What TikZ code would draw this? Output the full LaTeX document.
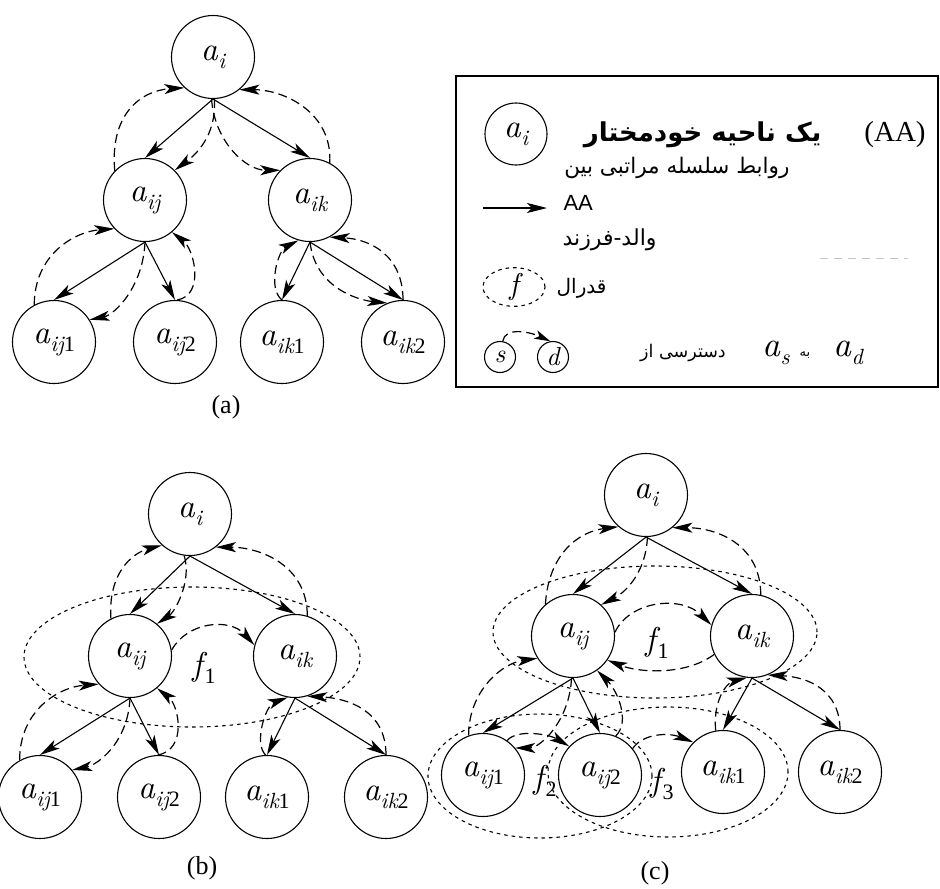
\documentclass[tikz,border=0pt]{standalone}
\usepackage{fontspec}
\setmainfont{Liberation Serif}
\newfontfamily\lmit{lmroman10-italic}[Extension=.otf]
\newfontfamily\farsi[Script=Arabic]{DejaVu Sans}
\newfontfamily\sansf{Liberation Sans}
\TeXXeTstate=1
\usetikzlibrary{arrows.meta,shapes.geometric}

% region label: italic letter with a lowered, smaller index
\newcommand\asub[1]{{\lmit a}\kern0.5pt\raisebox{-8pt}{\fontsize{22}{22}\selectfont #1}}
\newcommand\fsub[1]{{\lmit f}\kern2pt\raisebox{-8pt}{\fontsize{22}{22}\selectfont #1}}
\newcommand\ix[1]{{\lmit #1}}

\tikzset{
  region/.style={circle,draw,fill=white,line width=1.1pt,minimum size=83pt,inner sep=0pt,
                 font=\fontsize{33}{33}\selectfont},
  headtip/.style={-{Stealth[length=20pt,width=10pt,inset=5pt]}},
  hier/.style={headtip,line width=1.1pt},
  reach/.style={headtip,line width=1.2pt,dash pattern=on 9pt off 5pt},
  fed/.style={ellipse,draw,line width=1.1pt,dash pattern=on 3.5pt off 4pt,inner sep=0pt},
  caption/.style={font=\fontsize{26}{26}\selectfont},
  flabel/.style={font=\fontsize{33}{33}\selectfont},
  fa/.style={font=\farsi\fontsize{21.5}{21.5}\selectfont},
}

\begin{document}
\begin{tikzpicture}[x=1pt,y=-1pt]
\useasboundingbox (0,0) rectangle (940,889);

% ---------------- (a) ----------------
\node[region] (ai)   at (213,57)  {\asub{\ix{i}}};
\node[region] (aij)  at (145,200) {\asub{\ix{ij}}};
\node[region] (aik)  at (310,200) {\asub{\ix{ik}}};
\node[region] (aij1) at (54,342)  {\asub{\ix{ij}1}};
\node[region] (aij2) at (175,342) {\asub{\ix{ij}2}};
\node[region] (aik1) at (282,342) {\asub{\ix{ik}1}};
\node[region] (aik2) at (403,342) {\asub{\ix{ik}2}};
\node[caption] (capa) at (226,407) {(a)};

\draw[hier] (ai.south) -- (aij.north);
\draw[hier] (ai.south) -- (aik.north);
\draw[hier] (aij.south) -- (aij1.north);
\draw[hier] (aij.south) -- (aij2.north);
\draw[hier] (aik.south) -- (aik1.north);
\draw[hier] (aik.south) -- (aik2.north);

\draw[reach] (aij.136) .. controls +(-5,-55) and +(-45,3) .. (ai.227);
\draw[reach] (ai.272) .. controls +(2,38) and +(20,-15) .. (aij.45);
\draw[reach] (ai.268) .. controls +(3,42) and +(-35,0) .. (aik.135);
\draw[reach] (aik.62) .. controls +(3,-50) and +(45,0) .. (ai.309);
\draw[reach] (aij1.118) .. controls +(0,-50) and +(-40,3) .. (aij.223);
\draw[reach] (aij.south) .. controls +(-2,45) and +(25,-5) .. (aij1.32);
\draw[reach] (aij2.87) .. controls +(28,-5) and +(22,17) .. (aij.310);
\draw[reach] (aik1.90) .. controls +(-15,-12) and +(-20,10) .. (aik.254);
\draw[reach] (aik.south) .. controls +(5,45) and +(-30,-3) .. (aik2.112);
\draw[reach] (aik2.90) .. controls +(0,-45) and +(40,2) .. (aik.298);

% ---------------- legend ----------------
\node[draw,line width=1.2pt,minimum width=482pt,minimum height=311pt,inner sep=0pt] (box) at (697,231.5) {};
\node[region,minimum size=62pt] (la) at (516,134) {\asub{\ix{i}}};
\node[font=\farsi\bfseries\fontsize{26}{26}\selectfont,anchor=east] (t1) at (825,135) {\beginR یک ناحیه خودمختار\endR};
\node[font=\fontsize{29}{29}\selectfont] (t2) at (895,135) {(AA)};
\node[fa,anchor=east] (t3) at (793,168) {\beginR روابط سلسله مراتبی بین\endR};
\coordinate (lh1) at (483,208);
\coordinate (lh2) at (547,208);
\draw[hier] (lh1) -- (lh2);
\node[font=\sansf\fontsize{22}{22}\selectfont,anchor=west] (t4) at (560,203) {AA};
\node[font=\farsi\fontsize{22}{22}\selectfont,anchor=east] (t5) at (660,240) {\beginR والد-فرزند\endR};
\coordinate (lg1) at (820,258);
\coordinate (lg2) at (908,258);
\draw[black!22,line width=0.9pt,dash pattern=on 8pt off 6pt] (lg1) -- (lg2);
\node[fed,minimum width=62pt,minimum height=36pt,font=\fontsize{30}{30}\selectfont] (lf) at (514,287) {\ix{f}};
\node[font=\farsi\fontsize{20}{20}\selectfont,anchor=east] (t6) at (610,288) {\beginR قدرال\endR};
\node[circle,draw,line width=1.1pt,minimum size=31pt,inner sep=0pt,font=\fontsize{26}{26}\selectfont] (ls) at (500,357) {\ix{s}};
\node[circle,draw,line width=1.1pt,minimum size=31pt,inner sep=0pt,font=\fontsize{26}{26}\selectfont] (ld) at (553,357) {\ix{d}};
\draw[reach,-{Stealth[length=16pt,width=9pt,inset=4pt]}] (ls.80) .. controls +(2,-14) and +(-22,-10) .. (ld.100);
\node[font=\farsi\fontsize{17.5}{17.5}\selectfont] (t7) at (683,353) {\beginR دسترسی از\endR};
\node[font=\fontsize{35}{35}\selectfont] (las) at (776,353) {\asub{\ix{s}}};
\node[font=\farsi\fontsize{13}{13}\selectfont] (t8) at (805,355) {\beginR به\endR};
\node[font=\fontsize{35}{35}\selectfont] (lad) at (848,353) {\asub{\ix{d}}};

% ---------------- (b) ----------------
\node[fed,minimum width=336pt,minimum height=140pt] (bf1) at (192,657) {};
\node[region] (bi)   at (190,514) {\asub{\ix{i}}};
\node[region] (bij)  at (130,656) {\asub{\ix{ij}}};
\node[region] (bik)  at (295,656) {\asub{\ix{ik}}};
\node[region] (bij1) at (40,797)  {\asub{\ix{ij}1}};
\node[region] (bij2) at (159,797) {\asub{\ix{ij}2}};
\node[region] (bik1) at (267,797) {\asub{\ix{ik}1}};
\node[region] (bik2) at (386,797) {\asub{\ix{ik}2}};
\node[flabel] (bl1) at (204,668) {\fsub{1}};
\node[caption] (capb) at (202,868) {(b)};

\draw[hier] (bi.south) -- (bij.north);
\draw[hier] (bi.south) -- (bik.north);
\draw[hier] (bij.south) -- (bij1.north);
\draw[hier] (bij.south) -- (bij2.north);
\draw[hier] (bik.south) -- (bik1.north);
\draw[hier] (bik.south) -- (bik2.north);

\draw[reach] (bij.117) .. controls +(-3,-45) and +(-30,8) .. (bi.228);
\draw[reach] (bi.262) .. controls +(8,25) and +(18,-12) .. (bij.50);
\draw[reach] (bik.73) .. controls +(0,-50) and +(45,0) .. (bi.308);
\draw[reach] (bij.8) .. controls +(15,-28) and +(-25,-28) .. (bik.165);
\draw[reach] (bij1.119) .. controls +(0,-50) and +(-40,3) .. (bij.222);
\draw[reach] (bij.south) .. controls +(-2,45) and +(25,-5) .. (bij1.40);
\draw[reach] (bij2.92) .. controls +(30,-5) and +(22,17) .. (bij.310);
\draw[reach] (bik1.92) .. controls +(-12,-12) and +(-22,8) .. (bik.260);
\draw[reach] (bik2.90) .. controls +(0,-45) and +(40,2) .. (bik.287);

% ---------------- (c) ----------------
\node[fed,minimum width=324pt,minimum height=132pt] (cf1) at (655,632) {};
\node[fed,minimum width=224pt,minimum height=124pt] (cf2) at (540,776) {};
\node[fed,minimum width=240pt,minimum height=130pt] (cf3) at (668,772) {};
\node[region] (ci)   at (646,495) {\asub{\ix{i}}};
\node[region] (cij)  at (573,636) {\asub{\ix{ij}}};
\node[region] (cik)  at (752,636) {\asub{\ix{ik}}};
\node[region] (cij1) at (483,775) {\asub{\ix{ij}1}};
\node[region] (cij2) at (600,775) {\asub{\ix{ij}2}};
\node[region] (cik1) at (723,772) {\asub{\ix{ik}1}};
\node[region] (cik2) at (840,772) {\asub{\ix{ik}2}};
\node[flabel] (cl1) at (657,643) {\fsub{1}};
\node[flabel] (cl2) at (545,781) {\fsub{2}};
\node[flabel] (cl3) at (662,784) {\fsub{3}};
\node[caption] (capc) at (655,873) {(c)};

\draw[hier] (ci.south) -- (cij.north);
\draw[hier] (ci.south) -- (cik.north);
\draw[hier] (cij.south) -- (cij1.north);
\draw[hier] (cij.south) -- (cij2.north);
\draw[hier] (cik.south) -- (cik1.north);
\draw[hier] (cik.south) -- (cik2.north);

\draw[reach] (cij.131) .. controls +(3,-50) and +(-40,5) .. (ci.229);
\draw[reach] (ci.272) .. controls +(-2,40) and +(20,-10) .. (cij.48);
\draw[reach] (cik.78) .. controls +(0,-50) and +(45,0) .. (ci.309);
\draw[reach] (cij.5) .. controls +(15,-32) and +(-30,-30) .. (cik.165);
\draw[reach] (cik.206) .. controls +(-30,22) and +(30,12) .. (cij.325);
\draw[reach] (cij1.110) .. controls +(0,-45) and +(-35,5) .. (cij.212);
\draw[reach] (cij2.68) .. controls +(15,-15) and +(20,20) .. (cij.305);
\draw[reach] (cij.268) .. controls +(-2,43) and +(25,0) .. (cij1.40);
\draw[reach] (cij1.55) .. controls +(10,-12) and +(-20,-12) .. (cij2.137);
\draw[reach] (cij2.39) .. controls +(10,-15) and +(-25,-10) .. (cik1.135);
\draw[reach] (cik1.100) .. controls +(-3,-30) and +(-20,5) .. (cik.263);
\draw[reach] (cik2.90) .. controls +(0,-40) and +(40,2) .. (cik.292);
\end{tikzpicture}
\end{document}
